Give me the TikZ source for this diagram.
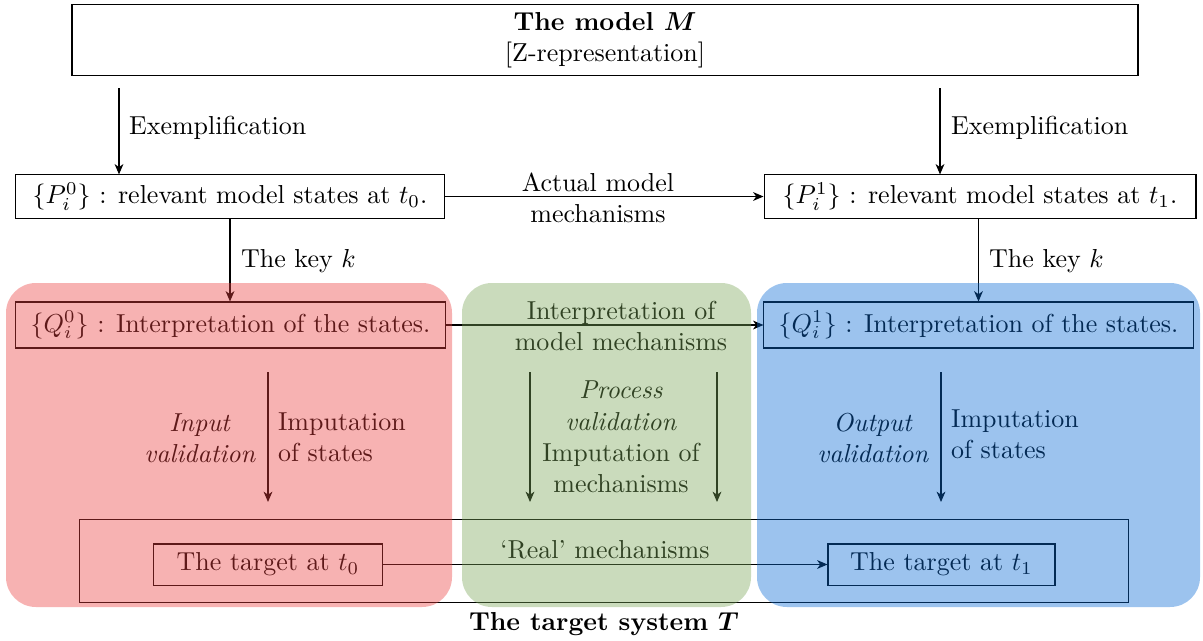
\documentclass[tikz,border=0pt]{standalone}
\usepackage{bm}
\usetikzlibrary{arrows.meta}
\definecolor{redreg}{RGB}{235,63,63}
\definecolor{greenreg}{RGB}{122,165,88}
\definecolor{bluereg}{RGB}{8,105,212}
\begin{document}
\begin{tikzpicture}[x=0.385pt,y=-0.385pt,
  box/.style={draw,inner sep=2pt},
  lab/.style={inner sep=1pt,align=center},
  region/.style={rounded corners=11.5pt,fill opacity=0.4,draw=none},
  >={Stealth[length=4pt,width=3.4pt,inset=1.2pt]}]
\useasboundingbox (0,0) rectangle (1203,641);
% boxes
\node[box,minimum width=410.4pt,minimum height=27.7pt,align=center] (M) at (605,40) {\textbf{The model $\bm{M}$}\\{[Z-representation]}};
\node[box,minimum width=164.8pt,minimum height=16.6pt] (P0) at (230,196.5) {$\{P_i^0\}$ : relevant model states at $t_0$.};
\node[box,minimum width=166.3pt,minimum height=16.6pt] (P1) at (980,196.5) {$\{P_i^1\}$ : relevant model states at $t_1$.};
\node[box,minimum width=165.2pt,minimum height=17.7pt] (Q0) at (230.5,325) {$\{Q_i^0\}$ : Interpretation of the states.};
\node[box,minimum width=165.2pt,minimum height=17.7pt] (Q1) at (978.5,325) {$\{Q_i^1\}$ : Interpretation of the states.};
\node[box,minimum width=403.5pt,minimum height=31.6pt] (T) at (604,561) {};
\node[box,minimum width=87.8pt,minimum height=15.8pt] (t0) at (268,564.5) {The target at $t_0$};
\node[box,minimum width=87.4pt,minimum height=15.8pt] (t1) at (941.5,564.5) {The target at $t_1$};
\node[lab] (Tlab) at (604,624) {\textbf{The target system $\bm{T}$}};
% exemplification
\coordinate (e0) at (119,88);
\coordinate (e1) at (940,88);
\draw[->] (e0) -- (e0 |- P0.north);
\draw[->] (e1) -- (e1 |- P1.north);
\node[lab,anchor=west] (ex0) at (126,128) {Exemplification};
\node[lab,anchor=west] (ex1) at (948,128) {Exemplification};
% key
\draw[->] (P0.south) -- (P0.south |- Q0.north);
\draw[->] (Q1.north |- P1.south) -- (Q1.north);
\node[lab,anchor=west] (k0) at (238,261) {The key $k$};
\node[lab,anchor=west] (k1) at (986,261) {The key $k$};
% horizontal
\draw[->] (P0.east) -- (P1.west);
\node[lab] (am) at (598,198) {Actual model\\mechanisms};
\draw[->] (Q0.east) -- (Q1.west);
\node[lab] (im) at (621,326) {Interpretation of\\model mechanisms};
\draw[->] (t0.east) -- (t1.west);
\node[lab] (rm) at (605,550) {`Real' mechanisms};
% vertical imputation arrows
\coordinate (a0) at (268,372); \coordinate (a0e) at (268,502);
\coordinate (g1) at (530,372); \coordinate (g1e) at (530,502);
\coordinate (g2) at (717,372); \coordinate (g2e) at (717,502);
\coordinate (a1) at (941,372); \coordinate (a1e) at (941,502);
\draw[->] (a0) -- (a0e);
\draw[->] (g1) -- (g1e);
\draw[->] (g2) -- (g2e);
\draw[->] (a1) -- (a1e);
\node[lab,anchor=east] (iv) at (259,438) {\textit{Input}\\\textit{validation}};
\node[lab,anchor=west,align=left] (is0) at (275,437) {Imputation\\of states};
\node[lab] (pv) at (621,437) {\textit{Process}\\\textit{validation}\\Imputation of\\mechanisms};
\node[lab,anchor=east] (ov) at (932,438) {\textit{Output}\\\textit{validation}};
\node[lab,anchor=west,align=left] (is1) at (948,434) {Imputation\\of states};
% regions
\fill[region,redreg] (6,283) rectangle (452,607);
\fill[region,greenreg] (462,283) rectangle (751,607);
\fill[region,bluereg] (757,283) rectangle (1200,607);
\end{tikzpicture}
\end{document}
